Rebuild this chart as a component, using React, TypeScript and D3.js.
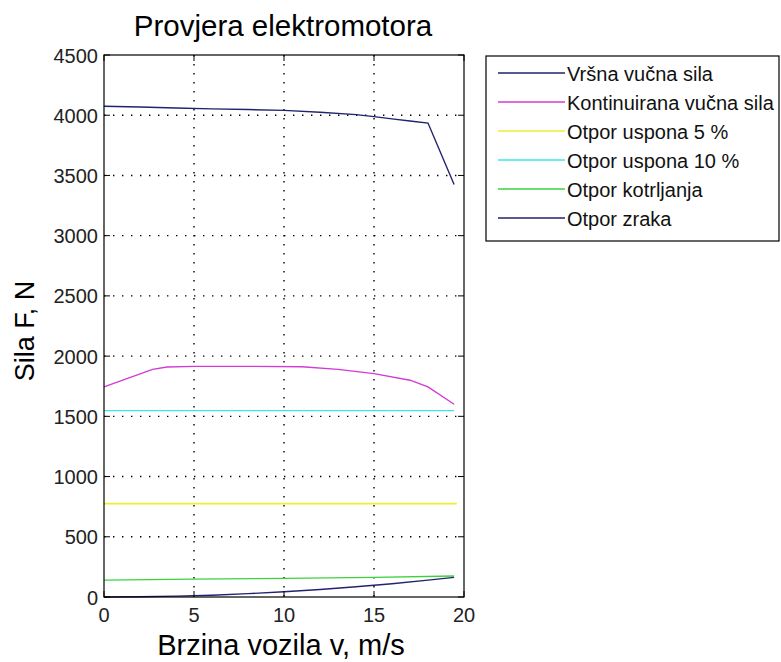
import React from "react";
import * as d3 from "d3";

const W = 781;
const H = 662;

const title = "Provjera elektromotora";
const xLabel = "Brzina vozila v, m/s";
const yLabel = "Sila F, N";

const xTicks = [0, 5, 10, 15, 20];
const yTicks = [0, 500, 1000, 1500, 2000, 2500, 3000, 3500, 4000, 4500];

const seriesNames = [
  "Vršna vučna sila",
  "Kontinuirana vučna sila",
  "Otpor uspona 5 %",
  "Otpor uspona 10 %",
  "Otpor kotrljanja",
  "Otpor zraka",
];
const seriesColors = ["#22226e", "#d23cd2", "#eeee30", "#3ee6e6", "#3cd23c", "#22226e"];

const peakV = [0, 2, 4, 6, 8, 10, 12, 14, 15, 16, 17, 18, 19.45];
const peakF = [4075, 4068, 4060, 4053, 4047, 4040, 4025, 4005, 3988, 3970, 3952, 3935, 3425];

const contV = [0, 2.7, 3.5, 5, 8, 11, 13, 15, 17, 18, 19.45];
const contF = [1745, 1890, 1910, 1915, 1915, 1912, 1890, 1855, 1800, 1745, 1600];

const slope5V = [0, 19.6];
const slope5F = [775, 775];

const slope10V = [0, 19.45];
const slope10F = [1547, 1547];

const rollV = [0, 5, 10, 15, 19.45];
const rollF = [140, 148, 155, 163, 174];

const airV = [0, 2, 4, 6, 8, 10, 12, 14, 16, 18, 19.45];
const airF = [0, 2, 7, 15, 28, 43, 62, 85, 110, 140, 163];

const seriesV = [peakV, contV, slope5V, slope10V, rollV, airV];
const seriesF = [peakF, contF, slope5F, slope10F, rollF, airF];

const plot = { left: 104, right: 464, top: 55, bottom: 597 };

export default function App() {
  const x = d3.scaleLinear().domain([0, 20]).range([plot.left, plot.right]);
  const y = d3.scaleLinear().domain([0, 4500]).range([plot.bottom, plot.top]);
  const line = d3
    .line<[number, number]>()
    .x((d) => x(d[0]))
    .y((d) => y(d[1]));

  const font = "'Liberation Sans', Arial, sans-serif";
  const legend = { left: 486, top: 56, right: 779, bottom: 241, row0: 73, rowH: 29 };

  return (
    <div style={{ position: "fixed", left: 0, top: 0, width: W, height: H, background: "#fff" }}>
      <svg width={W} height={H} style={{ display: "block" }} fontFamily={font}>
        <rect x={0} y={0} width={W} height={H} fill="#fff" />
        {/* grid */}
        {xTicks.slice(1, -1).map((t) => (
          <line key={"gx" + t} x1={x(t)} x2={x(t)} y1={plot.top} y2={plot.bottom}
            stroke="#000" strokeWidth={1.4} strokeDasharray="1.4 7.6" />
        ))}
        {yTicks.slice(1, -1).map((t) => (
          <line key={"gy" + t} x1={plot.left} x2={plot.right} y1={y(t)} y2={y(t)}
            stroke="#000" strokeWidth={1.4} strokeDasharray="1.4 7.6" />
        ))}
        {/* series */}
        {seriesNames.map((n, i) => (
          <path key={n}
            d={line(seriesV[i].map((v, k) => [v, seriesF[i][k]] as [number, number])) || ""}
            fill="none" stroke={seriesColors[i]} strokeWidth={i === 2 ? 1.8 : 1.4} />
        ))}
        {/* frame */}
        <rect x={plot.left} y={plot.top} width={plot.right - plot.left} height={plot.bottom - plot.top}
          fill="none" stroke="#000" strokeWidth={1.2} />
        {/* ticks */}
        {xTicks.map((t) => (
          <g key={"tx" + t}>
            <line x1={x(t)} x2={x(t)} y1={plot.bottom} y2={plot.bottom - 6} stroke="#000" />
            <line x1={x(t)} x2={x(t)} y1={plot.top} y2={plot.top + 6} stroke="#000" />
            <text x={x(t)} y={622} textAnchor="middle" fontSize={20} fill="#222">{t}</text>
          </g>
        ))}
        {yTicks.map((t) => (
          <g key={"ty" + t}>
            <line x1={plot.left} x2={plot.left + 6} y1={y(t)} y2={y(t)} stroke="#000" />
            <line x1={plot.right} x2={plot.right - 6} y1={y(t)} y2={y(t)} stroke="#000" />
            <text x={98} y={y(t) + 7.5} textAnchor="end" fontSize={20} fill="#222">{t}</text>
          </g>
        ))}
        {/* labels */}
        <text x={283} y={36} textAnchor="middle" fontSize={29.5} fill="#000">{title}</text>
        <text x={281} y={655} textAnchor="middle" fontSize={29} fill="#000">{xLabel}</text>
        <text transform={`translate(34, ${(plot.top + plot.bottom) / 2 + 5}) rotate(-90)`}
          textAnchor="middle" fontSize={27} fill="#000">{yLabel}</text>
        {/* legend */}
        <rect x={legend.left} y={legend.top} width={legend.right - legend.left}
          height={legend.bottom - legend.top} fill="#fff" stroke="#000" strokeWidth={1.2} />
        {seriesNames.map((n, i) => {
          const ry = legend.row0 + i * legend.rowH;
          return (
            <g key={"lg" + n}>
              <line x1={498} x2={565} y1={ry} y2={ry} stroke={seriesColors[i]} strokeWidth={1.4} />
              <text x={567} y={ry + 7.5} fontSize={20} fill="#111">{n}</text>
            </g>
          );
        })}
      </svg>
    </div>
  );
}
